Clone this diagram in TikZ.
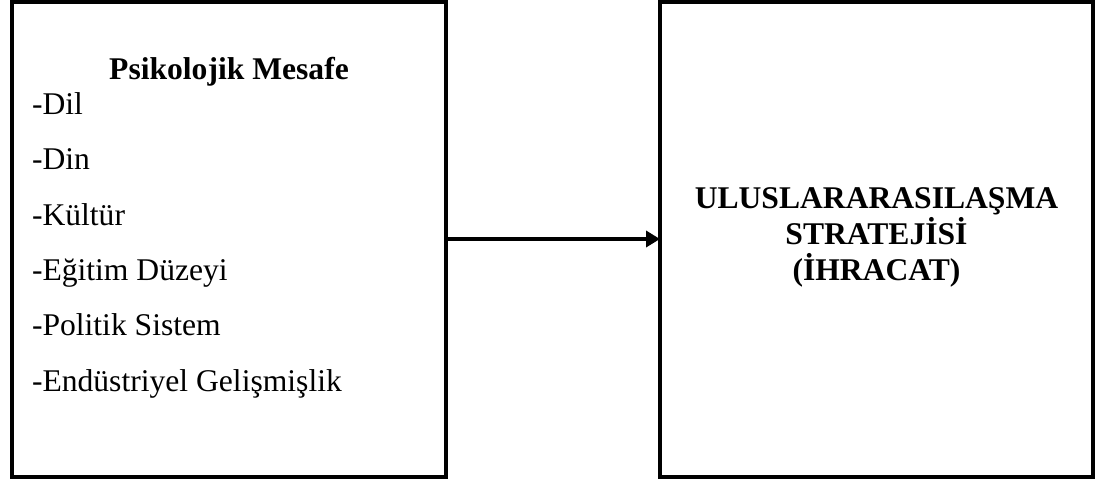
\documentclass[tikz,border=0pt]{standalone}
\usepackage{fontspec}
\setmainfont{Liberation Serif}
\usetikzlibrary{arrows.meta}
\begin{document}
\begin{tikzpicture}[x=1pt,y=-1pt,
  panel/.style={draw=black, line width=4pt, inner sep=0pt, outer sep=0pt,
    minimum width=434pt, minimum height=475pt},
  txt/.style={inner sep=0pt, outer sep=0pt, font=\fontsize{31.6}{36}\selectfont},
  head/.style={txt, font=\fontsize{31.6}{36}\selectfont\bfseries, anchor=base},
  item/.style={txt, anchor=base west},
  link/.style={line width=3.6pt, -{Triangle[length=14pt,width=16pt]}}]
\useasboundingbox (0,0) rectangle (1110,479);

% two panels
\node[panel] (L) at (229,239) {};
\node[panel, minimum width=433pt] (R) at (876.5,239) {};

% left panel text
\node[head] (lhead) at (229,79) {Psikolojik Mesafe};
\node[item] (i1) at (32,114.5) {-Dil};
\node[item] (i2) at (32,169.8) {-Din};
\node[item] (i3) at (32,225.1) {-Kültür};
\node[item] (i4) at (32,280.4) {-Eğitim Düzeyi};
\node[item] (i5) at (32,335.7) {-Politik Sistem};
\node[item] (i6) at (32,391.0) {-Endüstriyel Gelişmişlik};

% right panel text
\node[head] (r1) at (876.5,208.3) {ULUSLARARASILAŞMA};
\node[head] (r2) at (876.5,244.3) {STRATEJİSİ};
\node[head] (r3) at (876.5,280.3) {(İHRACAT)};

% connector
\draw[link] (L) -- (R);
\end{tikzpicture}
\end{document}
